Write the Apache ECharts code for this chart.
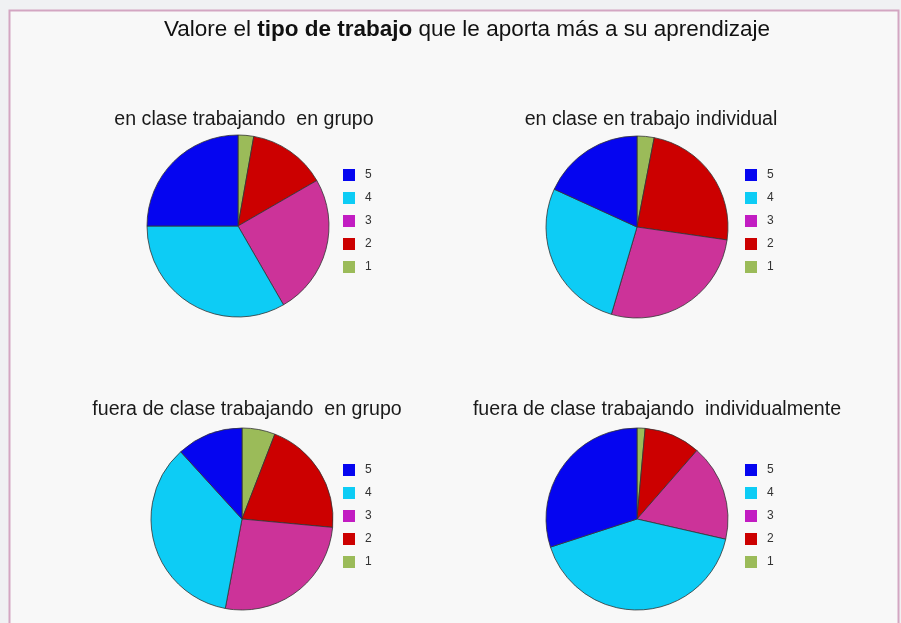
<!DOCTYPE html>
<html>
<head>
<meta charset="utf-8">
<script src="https://cdn.jsdelivr.net/npm/echarts@6/dist/echarts.min.js"></script>
<style>
html,body{margin:0;padding:0;background:#f0f1f3;}
#c{width:901px;height:623px;}
</style>
</head>
<body>
<div id="c"></div>
<script>
// Data
var categories = ['1', '2', '3', '4', '5'];
var legendOrder = ['5', '4', '3', '2', '1'];
var chartTitles = ['en clase trabajando  en grupo', 'en clase en trabajo individual', 'fuera de clase trabajando  en grupo', 'fuera de clase trabajando  individualmente'];
var enClaseGrupo = [1, 5, 9, 12, 9];
var enClaseIndividual = [1, 8, 9, 9, 6];
var fueraClaseGrupo = [2, 7, 9, 12, 4];
var fueraClaseIndividual = [1, 7, 12, 29, 21];
var colors = ['#9bbb59', '#cc0000', '#cc3399', '#0dccf5', '#0505f0'];
var legendColors = {'3': '#c21cc2'};

var allValues = [enClaseGrupo, enClaseIndividual, fueraClaseGrupo, fueraClaseIndividual];
var centers = [[238, 226], [637, 227], [242, 519], [637, 519]];
var titlePos = [[243, 105], [650, 105], [246, 395], [656, 395]];
var legendPos = [[343, 169], [745, 169], [343, 464], [745, 464]];

var chart = echarts.init(document.getElementById('c'));

var titles = [{
  text: '{n|Valore el }{b|tipo de trabajo}{n| que le aporta más a su aprendizaje}',
  left: 462, top: 13, textAlign: 'center',
  textStyle: {
    fontWeight: 'normal',
    rich: {
      n: {fontFamily: 'Liberation Sans', fontSize: 22.5, fontWeight: 'normal', color: '#111'},
      b: {fontFamily: 'Liberation Sans', fontSize: 22.5, fontWeight: 'bold', color: '#111'}
    }
  }
}];
var series = [];
var legends = [];
for (var i = 0; i < 4; i++) {
  titles.push({
    text: chartTitles[i], left: titlePos[i][0] - 4, top: titlePos[i][1], textAlign: 'center',
    textStyle: {fontFamily: 'Liberation Sans', fontSize: 19.6, fontWeight: 'normal', color: '#1a1a1a'}
  });
  series.push({
    name: chartTitles[i],
    type: 'pie',
    center: centers[i],
    radius: 91,
    startAngle: 90,
    clockwise: true,
    silent: true,
    label: {show: false},
    labelLine: {show: false},
    emphasis: {disabled: true},
    itemStyle: {borderColor: '#333', borderWidth: 0.8},
    data: categories.map(function (c, k) {
      return {name: c, value: allValues[i][k], itemStyle: {color: colors[k]}};
    })
  });
  legends.push({
    orient: 'vertical',
    left: legendPos[i][0], top: legendPos[i][1],
    itemWidth: 12, itemHeight: 12, itemGap: 11,
    icon: 'rect', padding: 0,
    selectedMode: false,
    itemStyle: {borderWidth: 0},
    textStyle: {fontFamily: 'Liberation Sans', fontSize: 12, color: '#333', padding: [0, 0, 6, 5]},
    data: legendOrder.map(function (n) {
      var d = {name: n};
      if (legendColors[n]) d.itemStyle = {color: legendColors[n], borderWidth: 0};
      return d;
    })
  });
}

chart.setOption({
  animation: false,
  backgroundColor: '#f0f1f3',
  graphic: [{
    type: 'rect', silent: true, z: -10,
    shape: {x: 9.5, y: 10.5, width: 889, height: 640},
    style: {fill: '#f8f8f8', stroke: '#d3a6c2', lineWidth: 2}
  }],
  title: titles,
  legend: legends,
  series: series
});
</script>
</body>
</html>
